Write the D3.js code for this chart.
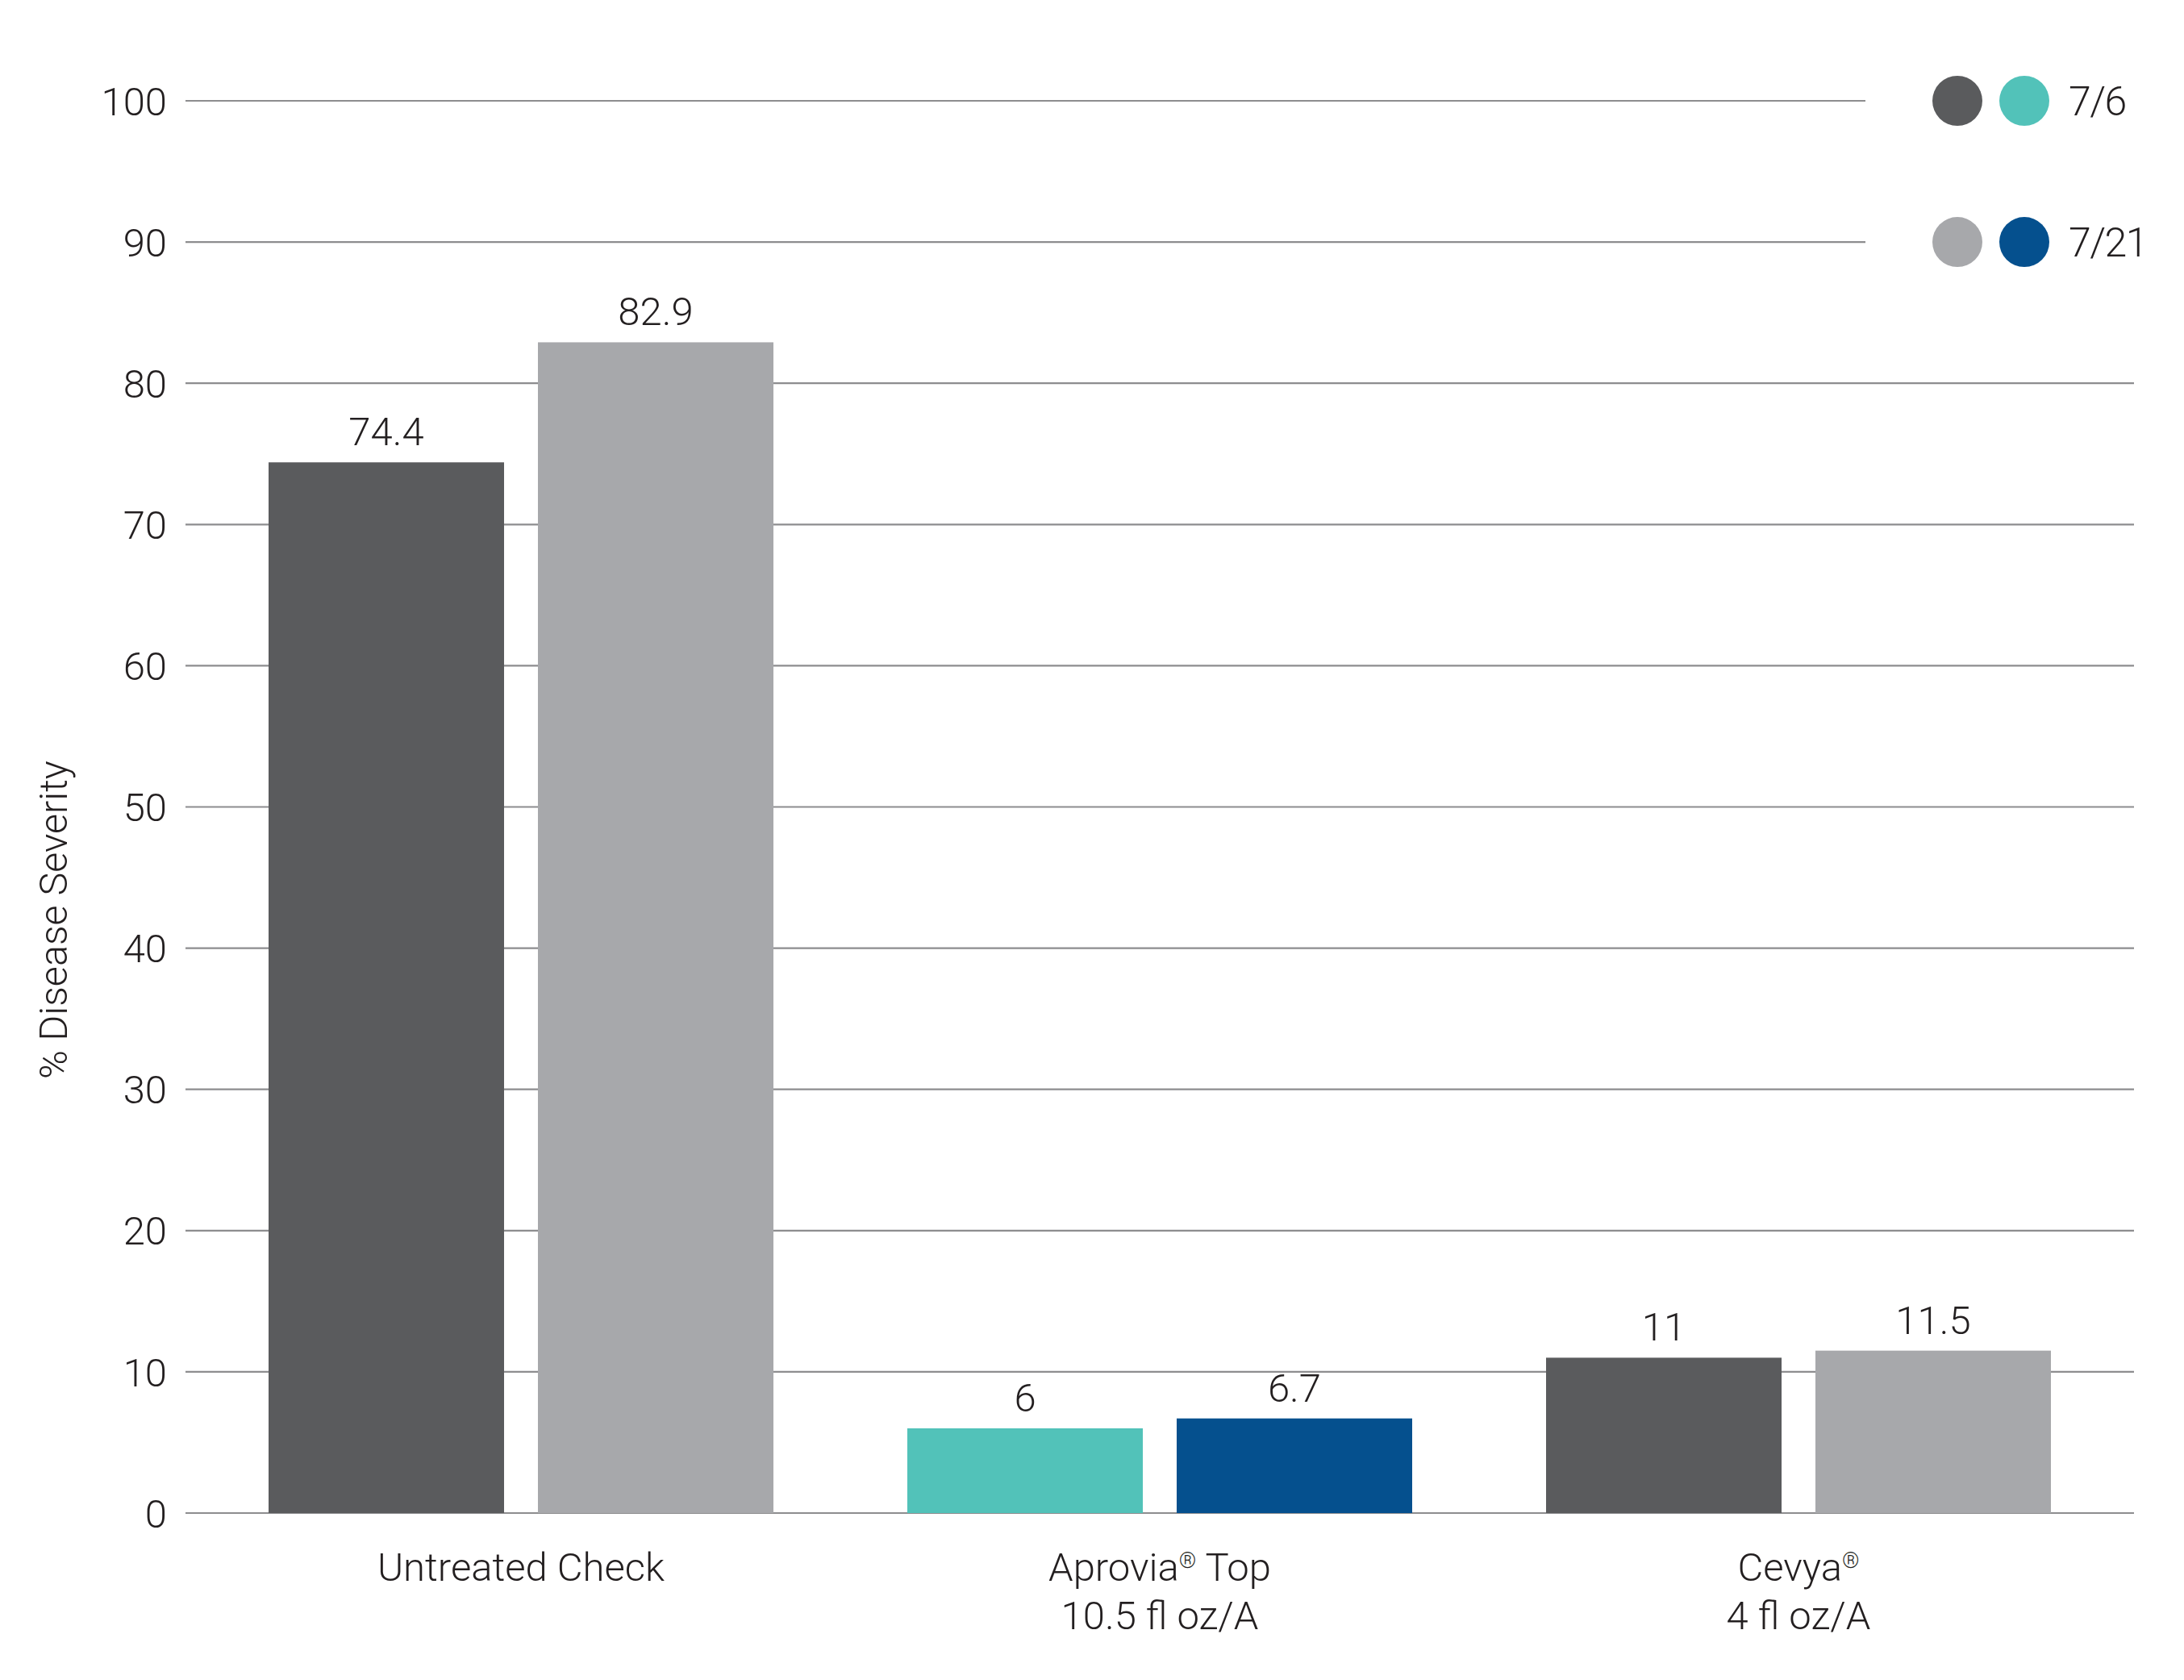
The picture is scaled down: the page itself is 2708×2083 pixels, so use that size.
<!DOCTYPE html>
<html>
<head>
<meta charset="utf-8">
<script src="https://cdn.jsdelivr.net/npm/d3@7"></script>
<style>
  html, body { margin: 0; padding: 0; background: #fff; }
  svg { display: block; }
  text { font-family: Roboto, "Liberation Sans", sans-serif; font-weight: 300; fill: #231f20; }
</style>
</head>
<body>
<svg id="chart"></svg>
<script>
// data
const treatments = ["Untreated Check", "Aprovia Top", "Cevya"];
// each x label as lines; "^" marks a registered sign
const treatmentLabels = [
  ["Untreated Check"],
  ["Aprovia^ Top", "10.5 fl oz/A"],
  ["Cevya^", "4 fl oz/A"]
];
const dates = ["7/6", "7/21"];
const severity76 = [74.4, 6, 11];
const severity721 = [82.9, 6.7, 11.5];
const valueLabels76 = ["74.4", "6", "11"];
const valueLabels721 = ["82.9", "6.7", "11.5"];
const yTicks = [0, 10, 20, 30, 40, 50, 60, 70, 80, 90, 100];

// colours: first date, second date, per treatment
const colors76 = ["#5a5b5d", "#52c2b9", "#5a5b5d"];
const colors721 = ["#a7a8ab", "#05508e", "#a7a8ab"];

const width = 2708;
const height = 2083;
const fontSize = 49;

const svg = d3.select("#chart")
  .attr("width", width)
  .attr("height", height);

//scales
const y = d3.scaleLinear().domain([0, 100]).range([1876, 125]);

const x0 = d3.scaleBand()
  .domain(treatments)
  .range([333, 2543])
  .paddingInner(0.2096)
  .paddingOuter(0);

const x1 = d3.scaleBand()
  .domain(dates)
  .range([0, x0.bandwidth()])
  .paddingInner(0.1257)
  .paddingOuter(0);

const gridLeft = 230;
const gridRight = 2646;
const gridRightLegend = 2313; // top lines stop short of the legend

//y grid lines + tick labels
const yAxis = svg.append("g").attr("class", "y-axis");
yAxis.selectAll(".grid")
  .data(yTicks)
  .join("line")
  .attr("class", "grid")
  .attr("x1", gridLeft)
  .attr("x2", (d) => (d >= 90 ? gridRightLegend : gridRight))
  .attr("y1", (d) => y(d))
  .attr("y2", (d) => y(d))
  .attr("stroke", "#8d8d8f")
  .attr("stroke-width", 2.2);

yAxis.selectAll(".tick-label")
  .data(yTicks)
  .join("text")
  .attr("class", "tick-label")
  .attr("x", 207)
  .attr("y", (d) => y(d))
  .attr("dy", "0.36em")
  .attr("text-anchor", "end")
  .attr("font-size", fontSize)
  .text((d) => d);

//y label
svg.append("text")
  .attr("transform", `translate(83, ${y(42)}) rotate(-90)`)
  .attr("text-anchor", "middle")
  .attr("font-size", 48.5)
  .text("% Disease Severity");

//bars
const rows = treatments.map((t, i) => [
  { t, date: dates[0], v: severity76[i], label: valueLabels76[i], color: colors76[i] },
  { t, date: dates[1], v: severity721[i], label: valueLabels721[i], color: colors721[i] }
]);

const groups = svg.append("g")
  .selectAll(".group")
  .data(rows)
  .join("g")
  .attr("class", "group")
  .attr("transform", (d, i) => `translate(${x0(treatments[i])},0)`);

groups.selectAll(".bar")
  .data((d) => d)
  .join("rect")
  .attr("class", "bar")
  .attr("x", (d) => x1(d.date))
  .attr("y", (d) => y(d.v))
  .attr("width", x1.bandwidth())
  .attr("height", (d) => y(0) - y(d.v))
  .attr("fill", (d) => d.color);

groups.selectAll(".value")
  .data((d) => d)
  .join("text")
  .attr("class", "value")
  .attr("x", (d) => x1(d.date) + x1.bandwidth() / 2)
  .attr("y", (d) => y(d.v) - 21)
  .attr("text-anchor", "middle")
  .attr("font-size", fontSize)
  .text((d) => d.label);

//x labels
const xLabels = svg.append("g")
  .selectAll(".x-label")
  .data(treatmentLabels)
  .join("text")
  .attr("class", "x-label")
  .attr("text-anchor", "middle")
  .attr("font-size", fontSize)
  .attr("transform", (d, i) => `translate(${x0(treatments[i]) + x0.bandwidth() / 2}, 1960)`);

xLabels.each(function (lines) {
  const txt = d3.select(this);
  lines.forEach((line, li) => {
    const parts = line.split("^");
    parts.forEach((p, pi) => {
      const first = pi === 0;
      txt.append("tspan")
        .attr("x", first ? 0 : null)
        .attr("y", first ? li * 60 : null)
        .text(p);
      if (pi < parts.length - 1) {
        txt.append("tspan")
          .attr("font-size", fontSize * 0.55)
          .attr("baseline-shift", "super")
          .text("\u00AE");
      }
    });
  });
});

//legend
const legendRows = [
  { label: dates[0], colors: [colors76[0], colors76[1]], y: y(100) },
  { label: dates[1], colors: [colors721[0], colors721[1]], y: y(90) }
];
const legend = svg.append("g")
  .selectAll(".legend")
  .data(legendRows)
  .join("g")
  .attr("class", "legend")
  .attr("transform", (d) => `translate(0, ${d.y})`);

legend.selectAll("circle")
  .data((d) => d.colors)
  .join("circle")
  .attr("cx", (d, i) => 2427 + i * 83)
  .attr("cy", 0)
  .attr("r", 31)
  .attr("fill", (d) => d);

legend.append("text")
  .attr("x", 2565)
  .attr("dy", "0.36em")
  .attr("font-size", 50)
  .attr("letter-spacing", -1.5)
  .text((d) => d.label);
</script>
</body>
</html>
